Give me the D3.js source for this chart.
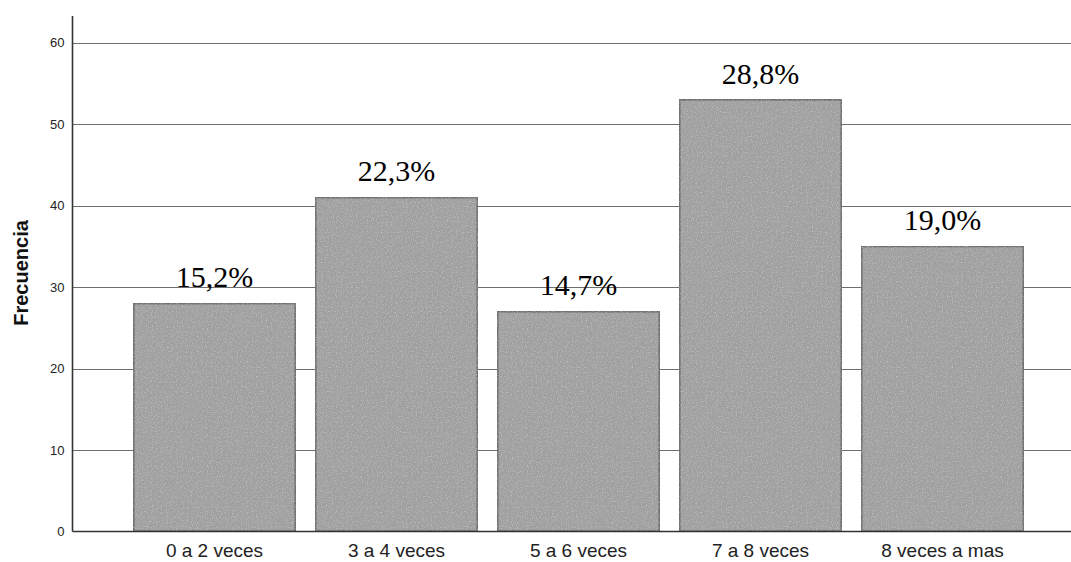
<!DOCTYPE html>
<html>
<head>
<meta charset="utf-8">
<script src="https://cdn.jsdelivr.net/npm/d3@7"></script>
<style>
  html, body { margin: 0; padding: 0; background: #fff; }
  svg { display: block; }
</style>
</head>
<body>
<svg id="chart" width="1071" height="562"></svg>
<script>
// Frequency of each category
const categories = ["0 a 2 veces", "3 a 4 veces", "5 a 6 veces", "7 a 8 veces", "8 veces a mas"];
const frequencies = [28, 41, 27, 53, 35];
const percentLabels = ["15,2%", "22,3%", "14,7%", "28,8%", "19,0%"];
const yTicks = [0, 10, 20, 30, 40, 50, 60];
const yTitle = "Frecuencia";

const svg = d3.select("#chart");
const plotLeft = 72.5, plotRight = 1071, plotBottom = 531.5, plotTop = 16;

// fine speckle texture for the bar fill
const defs = svg.append("defs");
const grain = defs.append("filter").attr("id", "grain")
  .attr("x", 0).attr("y", 0).attr("width", 1).attr("height", 1);
grain.append("feTurbulence")
  .attr("type", "fractalNoise").attr("baseFrequency", 0.8)
  .attr("numOctaves", 1).attr("seed", 3).attr("result", "noise");
grain.append("feColorMatrix").attr("in", "noise").attr("type", "matrix")
  .attr("values", "0 0 0 0 1  0 0 0 0 1  0 0 0 0 1  0.8 0 0 0 -0.4")
  .attr("result", "speck");
grain.append("feComposite").attr("in", "speck").attr("in2", "SourceGraphic")
  .attr("operator", "in").attr("result", "speckIn");
const merge = grain.append("feMerge");
merge.append("feMergeNode").attr("in", "SourceGraphic");
merge.append("feMergeNode").attr("in", "speckIn");

const y = d3.scaleLinear().domain([0, 60]).range([plotBottom, 42.5]);
const x = d3.scaleBand()
  .domain(categories)
  .range([72, 1085])
  .paddingInner(0.11)
  .paddingOuter(0.338);

// horizontal grid lines
svg.append("g")
  .selectAll("line")
  .data(yTicks.filter(d => d > 0))
  .join("line")
  .attr("x1", plotLeft).attr("x2", plotRight)
  .attr("y1", d => Math.round(y(d)) + 0.5)
  .attr("y2", d => Math.round(y(d)) + 0.5)
  .attr("stroke", "#6e6e6e")
  .attr("stroke-width", 1);

// bars
svg.append("g")
  .selectAll("rect")
  .data(frequencies)
  .join("rect")
  .attr("x", (d, i) => x(categories[i]))
  .attr("y", d => y(d))
  .attr("width", x.bandwidth())
  .attr("height", d => y(0) - y(d))
  .attr("fill", "#a0a0a0")
  .attr("stroke", "#6f6f6f")
  .attr("stroke-width", 2.2)
  .attr("filter", "url(#grain)");

// percentage labels above bars
svg.append("g")
  .selectAll("text")
  .data(frequencies)
  .join("text")
  .attr("x", (d, i) => x(categories[i]) + x.bandwidth() / 2)
  .attr("y", d => y(d) - 16)
  .attr("text-anchor", "middle")
  .attr("font-family", "'Liberation Serif', 'Times New Roman', serif")
  .attr("font-size", 30)
  .attr("fill", "#000")
  .text((d, i) => percentLabels[i]);

// y axis
const yAxis = d3.axisLeft(y).tickValues(yTicks).tickSize(0).tickPadding(8);
const gy = svg.append("g").attr("transform", `translate(${plotLeft},0)`).call(yAxis);
gy.select(".domain").remove();
gy.selectAll("text")
  .attr("font-family", "'Liberation Sans', Arial, sans-serif")
  .attr("font-size", 13)
  .attr("fill", "#222");

svg.append("line")
  .attr("x1", plotLeft).attr("x2", plotLeft)
  .attr("y1", plotTop).attr("y2", plotBottom)
  .attr("stroke", "#333").attr("stroke-width", 1.6);
svg.append("line")
  .attr("x1", plotLeft).attr("x2", plotRight)
  .attr("y1", plotBottom).attr("y2", plotBottom)
  .attr("stroke", "#333").attr("stroke-width", 1.6);

// x axis category labels
const xAxis = d3.axisBottom(x).tickSize(0).tickPadding(12);
const gx = svg.append("g").attr("transform", `translate(0,${plotBottom})`).call(xAxis);
gx.select(".domain").remove();
gx.selectAll("text")
  .attr("font-family", "'Liberation Sans', Arial, sans-serif")
  .attr("font-size", 19)
  .attr("fill", "#222");

// y axis title
svg.append("text")
  .attr("transform", `translate(28,273) rotate(-90)`)
  .attr("text-anchor", "middle")
  .attr("font-family", "'Liberation Sans', Arial, sans-serif")
  .attr("font-weight", "bold")
  .attr("font-size", 20)
  .attr("fill", "#111")
  .text(yTitle);
</script>
</body>
</html>
